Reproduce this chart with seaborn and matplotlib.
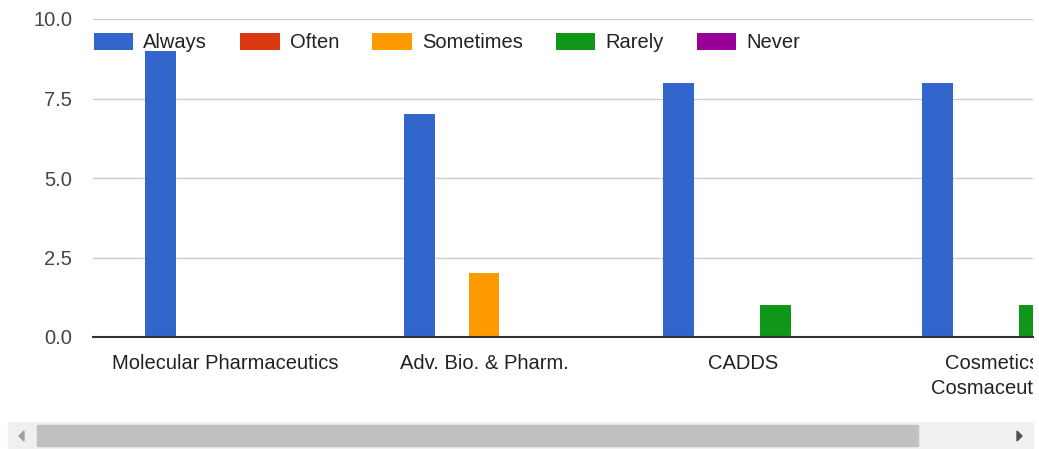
import numpy as np
import pandas as pd
import matplotlib
matplotlib.use('Agg')
import matplotlib.pyplot as plt
import seaborn as sns
from matplotlib.patches import Rectangle, Polygon
from matplotlib.transforms import Bbox, TransformedBbox

# data
courses = ['Molecular Pharmaceutics', 'Adv. Bio. & Pharm.', 'CADDS',
           'Cosmetics &\nCosmaceuticals']
answers = ['Always', 'Often', 'Sometimes', 'Rarely', 'Never']
always = [9, 7, 8, 8]
often = [0, 0, 0, 0]
sometimes = [0, 2, 0, 0]
rarely = [0, 0, 1, 1]
never = [0, 0, 0, 0]
colors = ['#3366cc', '#dc3912', '#ff9900', '#109618', '#990099']
yticks = [0.0, 2.5, 5.0, 7.5, 10.0]

rows = []
for name, vals in zip(answers, [always, often, sometimes, rarely, never]):
    for c, v in zip(courses, vals):
        rows.append({'course': c, 'answer': name, 'count': v})
df = pd.DataFrame(rows)

sns.set_style('white')
plt.rcParams['font.family'] = ['Liberation Sans', 'DejaVu Sans']

W, H = 1039, 449
fs = 14.5
fig = plt.figure(figsize=(W / 100, H / 100), dpi=100)
ax = fig.add_axes([93 / W, 1 - 337 / H, (1033 - 93) / W, (337 - 19) / H])

sns.barplot(data=df, x='course', y='count', hue='answer', order=courses,
            hue_order=answers, palette=colors, width=0.625, gap=0.05,
            saturation=1, linewidth=0, ax=ax)

ax.set_xlim(-0.51, 3.12)
ax.set_ylim(0, 10)
ax.set_yticks(yticks)
ax.set_yticklabels([f'{t:.1f}' for t in yticks])
ax.grid(axis='y', color='#cccccc', linewidth=1)
ax.set_axisbelow(True)
for s in ['top', 'right', 'left']:
    ax.spines[s].set_visible(False)
ax.spines['bottom'].set_color('#333333')
ax.spines['bottom'].set_linewidth(1.5)
ax.spines['bottom'].set_zorder(5)
ax.tick_params(axis='both', length=0, labelsize=fs, labelcolor='#444444')
ax.tick_params(axis='y', pad=15)
ax.tick_params(axis='x', pad=12, labelcolor='#222222')
ax.set_xlabel('')
ax.set_ylabel('')

# clip the last category label at the chart edge, like the scrolled view
clip = TransformedBbox(Bbox([[0, 0], [1033 / W, 1]]), fig.transFigure)
for lab in ax.get_xticklabels():
    lab.set_clip_box(clip)
    lab.set_clip_on(True)
    lab.set_linespacing(1.45)

leg = ax.legend(loc='upper left', bbox_to_anchor=(-0.0075, 0.981), ncol=5,
                frameon=False, fontsize=fs, handlelength=1.95, handleheight=0.9,
                handletextpad=0.5, columnspacing=1.65, borderaxespad=0)
for t in leg.get_texts():
    t.set_color('#222222')

# horizontal scrollbar under the chart
fig.patches.append(Rectangle((8 / W, 1 - 448 / H), (1033 - 8) / W, 26 / H,
                             transform=fig.transFigure, color='#f0f0f0', zorder=0))
fig.patches.append(Rectangle((37 / W, 1 - 446 / H), (918 - 37) / W, 21 / H,
                             transform=fig.transFigure, color='#c0c0c0', zorder=1))
fig.patches.append(Polygon([[24 / W, 1 - 431 / H], [24 / W, 1 - 441 / H], [19 / W, 1 - 436 / H]],
                           closed=True, transform=fig.transFigure, color='#a0a0a0', zorder=2))
fig.patches.append(Polygon([[1017 / W, 1 - 431 / H], [1017 / W, 1 - 441 / H], [1022 / W, 1 - 436 / H]],
                           closed=True, transform=fig.transFigure, color='#505050', zorder=2))

fig.savefig('out.png', dpi=100)
